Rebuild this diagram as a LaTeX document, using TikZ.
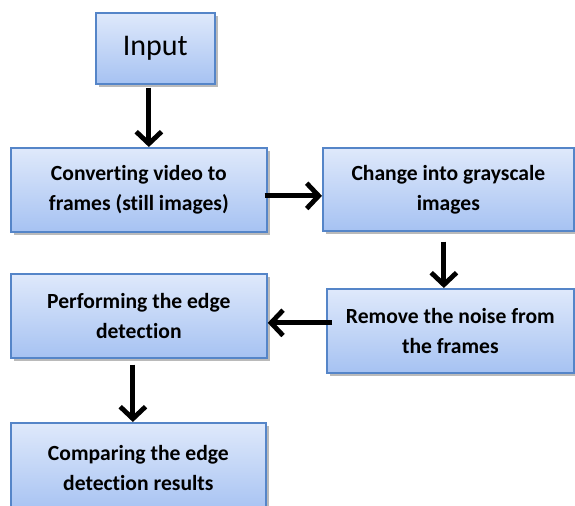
\documentclass[tikz,border=0pt]{standalone}
\usepackage{fontspec}
\setmainfont[Ligatures=NoCommon]{Carlito}
\usetikzlibrary{arrows.meta,calc,shadows}
\definecolor{boxtop}{HTML}{DFE9FB}
\definecolor{boxbot}{HTML}{A6C2F2}
\definecolor{boxline}{HTML}{5585C8}
\tikzset{
  stepbox/.style={rectangle, anchor=north west, draw=boxline, line width=1.3pt,
    top color=boxtop, bottom color=boxbot, align=center, inner sep=0pt,
    font=\fontsize{16.2}{22.5}\selectfont\bfseries,
    drop shadow={shadow xshift=2pt, shadow yshift=-2pt, fill=black!45, opacity=0.6}},
  arr/.style={line width=3.6pt, -{Straight Barb[length=9pt,width=19pt]}}
}
\begin{document}
\begin{tikzpicture}[x=0.75pt,y=-0.75pt]
\useasboundingbox (0,0) rectangle (575,506);
\node[stepbox, minimum width=89.25pt, minimum height=53.25pt,
      font=\fontsize{22.5}{26}\selectfont] (input) at (95,12) {Input};
\node[stepbox, minimum width=192pt, minimum height=63pt] (conv) at (10,147)
  {Converting video to\\frames (still images)};
\node[stepbox, minimum width=188.25pt, minimum height=62.25pt] (gray) at (322,147)
  {Change into grayscale\\images};
\node[stepbox, minimum width=185.25pt, minimum height=63pt] (noise) at (326,288)
  {Remove the noise from\\the frames};
\node[stepbox, minimum width=192pt, minimum height=63pt] (edge) at (10,273)
  {Performing the edge\\detection};
\node[stepbox, minimum width=191.25pt, minimum height=67.5pt] (comp) at (10,422)
  {Comparing the edge\\detection results};
\draw[arr] ($(input.south)+(-6.5,3)$) -- ($(conv.north)+(10,0)$);
\draw[arr] ($(conv.east)+(-3,6)$) -- ($(gray.west)+(0,6.5)$);
\draw[arr] ($(gray.south)+(-4.5,10)$) -- ($(noise.north)+(-6.5,0)$);
\draw[arr] ($(noise.west)+(6,-8)$) -- ($(edge.east)+(0,7)$);
\draw[arr] ($(edge.south)+(-6,6)$) -- ($(comp.north)+(-5.5,0)$);
\end{tikzpicture}
\end{document}
